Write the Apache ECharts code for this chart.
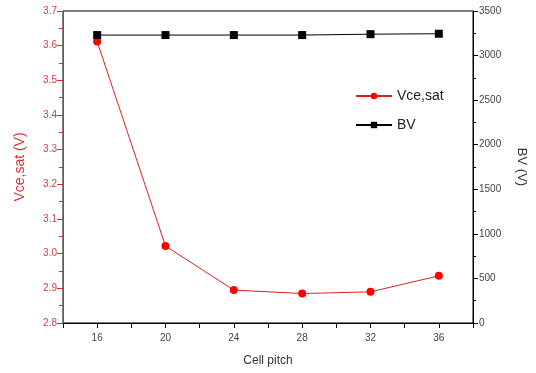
<!DOCTYPE html>
<html><head><meta charset="utf-8">
<script src="https://cdn.jsdelivr.net/npm/echarts@6/dist/echarts.min.js"></script>
<style>html,body{margin:0;padding:0;background:#fff}#c{width:536px;height:373px}</style>
</head><body><div id="c"></div>
<script>
const cellPitch = [16, 20, 24, 28, 32, 36];
const vceSat = [3.612, 3.022, 2.895, 2.885, 2.89, 2.936];
const bv = [3230, 3230, 3230, 3230, 3240, 3245];
const xTickLabels = [16, 20, 24, 28, 32, 36];

const chart = echarts.init(document.getElementById('c'), null, {renderer:'canvas'});
const font = 'Liberation Sans, Arial, sans-serif';
chart.setOption({
  animation: false,
  backgroundColor: '#fff',
  grid: {left: 63, right: 63, top: 11, bottom: 50, show: true, borderColor: '#000', borderWidth: 1},
  legend: {
    orient: 'vertical', left: 350, top: 84, itemGap: 15, itemWidth: 36, itemHeight: 8,
    textStyle: {fontFamily: font, fontSize: 14, color: '#222'},
    data: ['Vce,sat', 'BV']
  },
  xAxis: {
    type: 'value', min: 14, max: 38, interval: 2,
    name: 'Cell pitch', nameLocation: 'middle', nameGap: 32,
    nameTextStyle: {fontFamily: font, fontSize: 12, color: '#333'},
    axisLine: {lineStyle: {color: '#000'}},
    axisTick: {length: 5, lineStyle: {color: '#000'}},
    axisLabel: {fontFamily: font, fontSize: 10, color: '#444', margin: 10,
      formatter: v => xTickLabels.indexOf(v) >= 0 ? String(v) : ''},
    splitLine: {show: false}
  },
  yAxis: [{
    type: 'value', min: 2.8, max: 3.7, interval: 0.1, position: 'left',
    name: 'Vce,sat (V)', nameLocation: 'middle', nameGap: 36,
    nameTextStyle: {fontFamily: font, fontSize: 14, color: '#e03030'},
    axisLine: {show: true, lineStyle: {color: '#d03030'}},
    axisTick: {show: true, length: 6, lineStyle: {color: '#d03030'}},
    minorTick: {show: true, splitNumber: 2, length: 4, lineStyle: {color: '#d03030'}},
    axisLabel: {fontFamily: font, fontSize: 10, color: '#d04040', margin: 6, formatter: v => v.toFixed(1)},
    splitLine: {show: false}
  }, {
    type: 'value', min: 0, max: 3500, interval: 500, position: 'right',
    name: 'BV (V)', nameLocation: 'middle', nameGap: 42, nameRotate: -90,
    nameTextStyle: {fontFamily: font, fontSize: 13, color: '#333'},
    axisLine: {show: true, lineStyle: {color: '#000'}},
    axisTick: {show: true, length: 5, lineStyle: {color: '#000'}},
    minorTick: {show: true, splitNumber: 2, length: 3, lineStyle: {color: '#000'}},
    axisLabel: {fontFamily: font, fontSize: 10, color: '#444', margin: 6, formatter: v => String(v)},
    splitLine: {show: false}
  }],
  series: [{
    name: 'Vce,sat', type: 'line', yAxisIndex: 0,
    data: cellPitch.map((x, i) => [x, vceSat[i]]),
    symbol: 'circle', symbolSize: 8,
    lineStyle: {color: '#e02020', width: 1},
    itemStyle: {color: '#ff0000'}
  }, {
    name: 'BV', type: 'line', yAxisIndex: 1,
    data: cellPitch.map((x, i) => [x, bv[i]]),
    symbol: 'rect', symbolSize: 8,
    lineStyle: {color: '#000', width: 1},
    itemStyle: {color: '#000'}
  }]
});
</script></body></html>
